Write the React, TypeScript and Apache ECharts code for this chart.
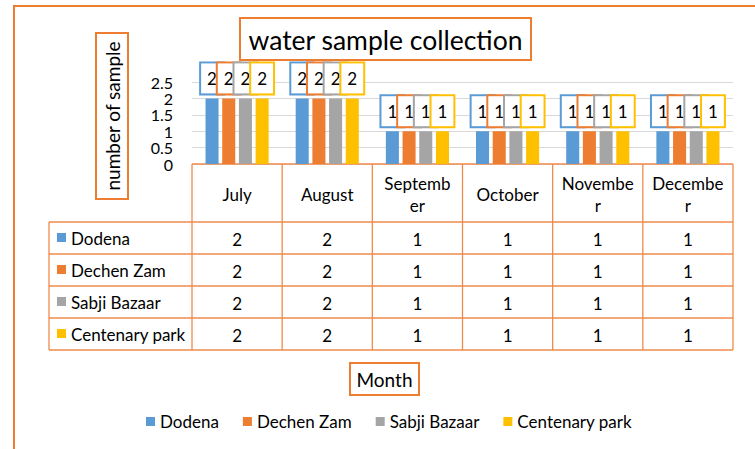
import React, { useEffect, useRef } from "react";
import * as echarts from "echarts";

const months = ["July", "August", "September", "October", "November", "December"];
const seriesNames = ["Dodena", "Dechen Zam", "Sabji Bazaar", "Centenary park"];
const dodena = [2, 2, 1, 1, 1, 1];
const dechenZam = [2, 2, 1, 1, 1, 1];
const sabjiBazaar = [2, 2, 1, 1, 1, 1];
const centenaryPark = [2, 2, 1, 1, 1, 1];
const seriesValues = [dodena, dechenZam, sabjiBazaar, centenaryPark];
const yTicks = [0, 0.5, 1, 1.5, 2, 2.5];
const yMin = 0;
const yMax = 2.5;
const yStep = 0.5;
const titleText = "water sample collection";
const yAxisTitle = "number of sample";
const xAxisTitle = "Month";

const colors = ["#5B9BD5", "#ED7D31", "#A5A5A5", "#FFC000"];
const ORANGE = "#ED7D31";
const TABLE_LINE = "#F08A4B";
const FONT = "Lato";

// layout
const GL = 192;
const GR = 733;
const GT = 82;
const GB = 164;
const HEADER_BOTTOM = 222;
const ROW_H = 32;
const TABLE_LEFT = 49;

function wrapLabel(s: string, n: number) {
  const parts: string[] = [];
  for (let i = 0; i < s.length; i += n) parts.push(s.slice(i, i + n));
  return parts.join("\n");
}

export default function App() {
  const ref = useRef<HTMLDivElement>(null);
  useEffect(() => {
    if (!ref.current) return;
    const chart = echarts.init(ref.current, null, { renderer: "svg" });
    const colW = (GR - GL) / months.length;
    const tableBottom = HEADER_BOTTOM + ROW_H * seriesNames.length;
    const graphics: any[] = [];
    // outer frame
    graphics.push({
      type: "rect",
      shape: { x: 14, y: 6, width: 770, height: 470 },
      style: { fill: "none", stroke: ORANGE, lineWidth: 2 },
      silent: true,
    });
    // title box
    graphics.push({
      type: "rect",
      shape: { x: 240, y: 18, width: 291, height: 42 },
      style: { fill: "#fff", stroke: ORANGE, lineWidth: 2 },
    });
    graphics.push({
      type: "text",
      style: {
        text: titleText, x: 385.5, y: 40, fill: "#000",
        font: `26.5px ${FONT}`, align: "center", verticalAlign: "middle",
        textAlign: "center", textVerticalAlign: "middle",
      },
    });
    // y axis title box
    graphics.push({
      type: "rect",
      shape: { x: 96, y: 33, width: 32, height: 166 },
      style: { fill: "#fff", stroke: ORANGE, lineWidth: 2 },
    });
    graphics.push({
      type: "text",
      x: 112, y: 116, rotation: Math.PI / 2,
      style: {
        text: yAxisTitle, x: 0, y: 0, fill: "#000",
        font: `19px ${FONT}`, align: "center", verticalAlign: "middle",
        textAlign: "center", textVerticalAlign: "middle",
      },
    });
    // x axis title box
    graphics.push({
      type: "rect",
      shape: { x: 350, y: 363, width: 69, height: 32 },
      style: { fill: "#fff", stroke: ORANGE, lineWidth: 2 },
    });
    graphics.push({
      type: "text",
      style: {
        text: xAxisTitle, x: 384.5, y: 379, fill: "#000",
        font: `19px ${FONT}`, align: "center", verticalAlign: "middle",
        textAlign: "center", textVerticalAlign: "middle",
      },
    });
    // table lines
    const line = (x1: number, y1: number, x2: number, y2: number) => ({
      type: "line",
      shape: { x1, y1, x2, y2 },
      style: { stroke: TABLE_LINE, lineWidth: 1.3 },
    });
    graphics.push(line(GL, GB, GR, GB));
    for (let r = 0; r <= seriesNames.length; r++) {
      const y = HEADER_BOTTOM + r * ROW_H;
      graphics.push(line(TABLE_LEFT, y, GR, y));
    }
    graphics.push(line(TABLE_LEFT, HEADER_BOTTOM, TABLE_LEFT, tableBottom));
    for (let c = 0; c <= months.length; c++) {
      const x = GL + c * colW;
      graphics.push(line(x, GB, x, tableBottom));
    }
    // header
    months.forEach((m, c) => {
      graphics.push({
        type: "text",
        style: {
          text: wrapLabel(m, 7), x: GL + (c + 0.5) * colW, y: (GB + HEADER_BOTTOM) / 2 + 1,
          fill: "#000", font: `17px ${FONT}`, lineHeight: 22,
          align: "center", verticalAlign: "middle",
          textAlign: "center", textVerticalAlign: "middle",
        },
      });
    });
    // rows
    seriesNames.forEach((name, r) => {
      const cy = HEADER_BOTTOM + (r + 0.5) * ROW_H;
      graphics.push({
        type: "rect",
        shape: { x: 57, y: cy - 5, width: 9, height: 9 },
        style: { fill: colors[r] },
      });
      graphics.push({
        type: "text",
        style: {
          text: name, x: 71, y: cy, fill: "#000", font: `17px ${FONT}`,
          align: "left", verticalAlign: "middle",
          textAlign: "left", textVerticalAlign: "middle",
        },
      });
      seriesValues[r].forEach((v, c) => {
        graphics.push({
          type: "text",
          style: {
            text: String(v), x: GL + (c + 0.5) * colW, y: cy + 1, fill: "#000",
            font: `17px ${FONT}`, align: "center", verticalAlign: "middle",
            textAlign: "center", textVerticalAlign: "middle",
          },
        });
      });
    });

    const option: any = {
      animation: false,
      textStyle: { fontFamily: FONT },
      grid: { left: GL, top: GT, width: GR - GL, height: GB - GT, containLabel: false },
      xAxis: {
        type: "category",
        data: months,
        axisLabel: { show: false },
        axisTick: { show: false },
        axisLine: { show: false },
      },
      yAxis: {
        type: "value",
        min: yMin,
        max: yMax,
        interval: yStep,
        axisLine: { show: false },
        axisTick: { show: false },
        axisLabel: { show: false },
        splitLine: { lineStyle: { color: "#D9D9D9", width: 1 } },
      },
      legend: {
        data: seriesNames,
        left: 146,
        top: 413,
        padding: 0,
        icon: "rect",
        itemWidth: 9,
        itemHeight: 9,
        itemGap: 24,
        textStyle: { color: "#000", fontSize: 17, fontFamily: FONT, lineHeight: 16 },
      },
      series: seriesNames.map((name, i) => ({
        name,
        type: "bar",
        data: seriesValues[i],
        itemStyle: { color: colors[i] },
        barGap: "28%",
        barCategoryGap: "30%",
        label: {
          show: true,
          position: "top",
          distance: 5,
          color: "#000",
          fontSize: 17,
          fontFamily: FONT,
          lineHeight: 18,
          padding: [6, 6, 6, 6],
          backgroundColor: "#fff",
          borderColor: colors[i],
          borderWidth: 2,
        },
      })),
      graphic: { elements: graphics },
    };
    chart.setOption(option);
    // y-axis tick labels placed through the chart's own value scale
    yTicks.forEach((v) => {
      const py = chart.convertToPixel({ yAxisIndex: 0 }, v) as number;
      graphics.push({
        type: "text",
        style: {
          text: String(v), x: 173, y: py, fill: "#000",
          font: `16px ${FONT}`, lineHeight: 14, align: "right", verticalAlign: "middle",
          textAlign: "right", textVerticalAlign: "middle",
        },
      });
    });
    chart.setOption({ graphic: { elements: graphics } }, { replaceMerge: ["graphic"] });
    return () => chart.dispose();
  }, []);
  return (
    <div
      ref={ref}
      style={{ position: "absolute", left: 0, top: 0, width: 755, height: 449, background: "#fff" }}
    />
  );
}
